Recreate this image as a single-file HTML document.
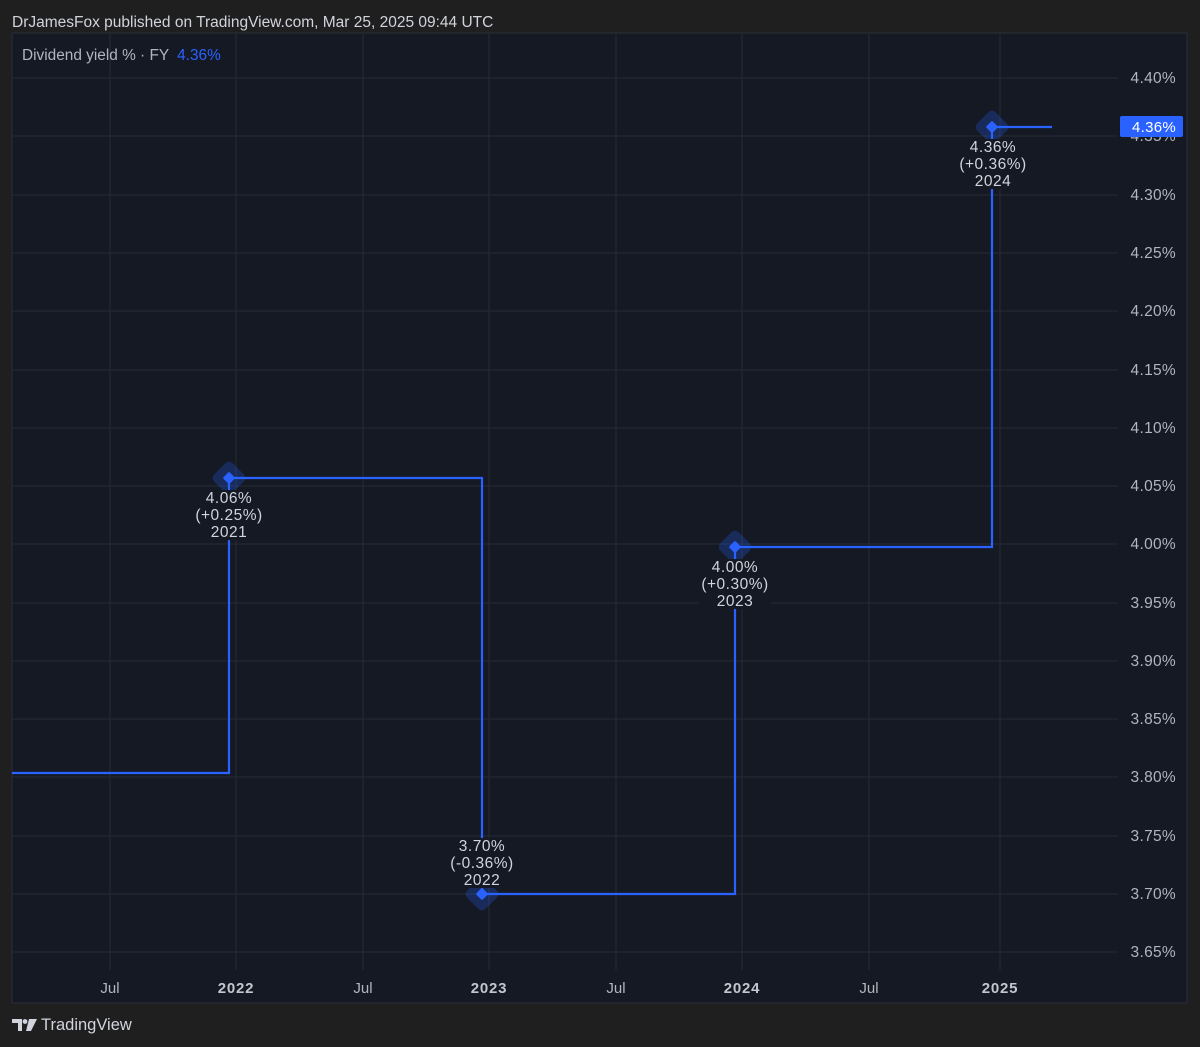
<!DOCTYPE html>
<html><head><meta charset="utf-8"><style>
html,body{margin:0;padding:0;background:#1f1f1f;width:1200px;height:1047px;overflow:hidden}
svg{display:block;font-family:"Liberation Sans",sans-serif}
</style></head><body>
<svg width="1200" height="1047" xmlns="http://www.w3.org/2000/svg">
<rect width="1200" height="1047" fill="#1f1f1f"/>
<text x="12" y="27" fill="#d1d4dc" font-size="15.5">DrJamesFox published on TradingView.com, Mar 25, 2025 09:44 UTC</text>
<rect x="12" y="33" width="1175" height="970" fill="#151924" stroke="#2a2e39" stroke-width="1"/>
<g stroke="#262a35" stroke-width="1">
<line x1="12" x2="1118" y1="78" y2="78"/><line x1="12" x2="1118" y1="136" y2="136"/>
<line x1="12" x2="1118" y1="195" y2="195"/><line x1="12" x2="1118" y1="253" y2="253"/>
<line x1="12" x2="1118" y1="311" y2="311"/><line x1="12" x2="1118" y1="370" y2="370"/>
<line x1="12" x2="1118" y1="428" y2="428"/><line x1="12" x2="1118" y1="486" y2="486"/>
<line x1="12" x2="1118" y1="544" y2="544"/><line x1="12" x2="1118" y1="603" y2="603"/>
<line x1="12" x2="1118" y1="661" y2="661"/><line x1="12" x2="1118" y1="719" y2="719"/>
<line x1="12" x2="1118" y1="777" y2="777"/><line x1="12" x2="1118" y1="836" y2="836"/>
<line x1="12" x2="1118" y1="894" y2="894"/><line x1="12" x2="1118" y1="952" y2="952"/>
<line x1="110" x2="110" y1="33" y2="970"/><line x1="236" x2="236" y1="33" y2="970"/>
<line x1="363" x2="363" y1="33" y2="970"/><line x1="489" x2="489" y1="33" y2="970"/>
<line x1="616" x2="616" y1="33" y2="970"/><line x1="742" x2="742" y1="33" y2="970"/>
<line x1="869" x2="869" y1="33" y2="970"/><line x1="1000" x2="1000" y1="33" y2="970"/>
</g>
<text x="22" y="60" fill="#b2b5be" font-size="15.4">Dividend yield % · FY <tspan fill="#2962ff" dx="4">4.36%</tspan></text>
<g fill="#b2b5be" font-size="15.5" text-anchor="end" letter-spacing="0.3">
<text x="1176" y="83">4.40%</text><text x="1176" y="141">4.35%</text><text x="1176" y="200">4.30%</text>
<text x="1176" y="258">4.25%</text><text x="1176" y="316">4.20%</text><text x="1176" y="375">4.15%</text>
<text x="1176" y="433">4.10%</text><text x="1176" y="491">4.05%</text><text x="1176" y="549">4.00%</text>
<text x="1176" y="608">3.95%</text><text x="1176" y="666">3.90%</text><text x="1176" y="724">3.85%</text>
<text x="1176" y="782">3.80%</text><text x="1176" y="841">3.75%</text><text x="1176" y="899">3.70%</text>
<text x="1176" y="957">3.65%</text>
</g>
<g fill="#b2b5be" font-size="15" text-anchor="middle">
<text x="110" y="993">Jul</text><text x="363" y="993">Jul</text><text x="616" y="993">Jul</text><text x="869" y="993">Jul</text>
<g font-weight="bold" fill="#c3c6ce" letter-spacing="0.8"><text x="236" y="993">2022</text><text x="489" y="993">2023</text><text x="742" y="993">2024</text><text x="1000" y="993">2025</text></g>
</g>
<polyline fill="none" stroke="#2962ff" stroke-width="2.2" points="12,773 229,773 229,478 482,478 482,894 735,894 735,547 992,547 992,127 1052,127"/>
<g fill="#2962ff" fill-opacity="0.25">
<rect x="216" y="465" width="26" height="26" rx="5" transform="rotate(45 229 478)"/>
<rect x="469" y="881" width="26" height="26" rx="5" transform="rotate(45 482 894)"/>
<rect x="722" y="534" width="26" height="26" rx="5" transform="rotate(45 735 547)"/>
<rect x="979" y="114" width="26" height="26" rx="5" transform="rotate(45 992 127)"/>
</g>
<g fill="#151924">
<rect x="193" y="490" width="72" height="50"/><rect x="446" y="838" width="72" height="50"/>
<rect x="699" y="559" width="72" height="50"/><rect x="957" y="139" width="72" height="50"/>
</g>
<g fill="#2962ff">
<rect x="224.5" y="473.5" width="9" height="9" rx="1.5" transform="rotate(45 229 478)"/>
<rect x="477.5" y="889.5" width="9" height="9" rx="1.5" transform="rotate(45 482 894)"/>
<rect x="730.5" y="542.5" width="9" height="9" rx="1.5" transform="rotate(45 735 547)"/>
<rect x="987.5" y="122.5" width="9" height="9" rx="1.5" transform="rotate(45 992 127)"/>
</g>
<g fill="#d1d4dc" font-size="15.5" text-anchor="middle" letter-spacing="0.5">
<text x="229" y="503">4.06%</text><text x="229" y="520">(+0.25%)</text><text x="229" y="537">2021</text>
<text x="482" y="851">3.70%</text><text x="482" y="868">(-0.36%)</text><text x="482" y="885">2022</text>
<text x="735" y="572">4.00%</text><text x="735" y="589">(+0.30%)</text><text x="735" y="606">2023</text>
<text x="993" y="152">4.36%</text><text x="993" y="169">(+0.36%)</text><text x="993" y="186">2024</text>
</g>
<rect x="1120" y="116" width="63" height="21" rx="2" fill="#2962ff"/>
<text x="1176" y="132" fill="#ffffff" font-size="15" text-anchor="end" letter-spacing="0.3">4.36%</text>
<g fill="#d1d4dc">
<path d="M12 1019h10v12h-4v-8h-6z"/><circle cx="25" cy="1021.5" r="2.4"/><path d="M29 1019h8l-6 12h-5z"/>
</g>
<text x="41" y="1030" fill="#d1d4dc" font-size="16.5">TradingView</text>
</svg>
</body></html>
